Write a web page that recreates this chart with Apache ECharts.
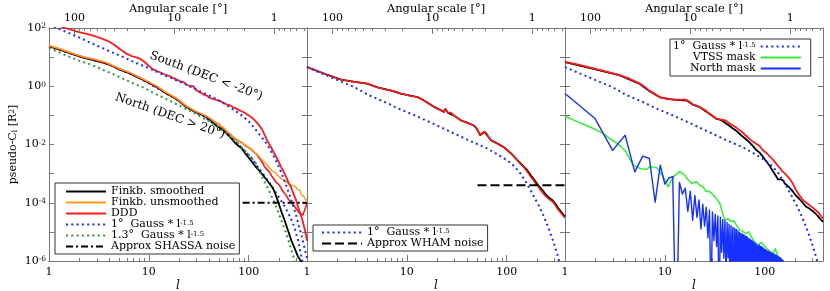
<!DOCTYPE html>
<html><head><meta charset="utf-8">
<script src="https://cdn.jsdelivr.net/npm/echarts@6/dist/echarts.min.js"></script>
<style>html,body{margin:0;padding:0;background:#fff}#c{width:830px;height:291px}</style>
</head><body><div id="c"></div>
<script>
// ---------- values: [l, log10(pseudo-C_l)] ----------
const p1SouthDDD = [[1,2.2],[1.45,2.0],[2,1.86],[2.5,1.78],[3,1.7],[3.5,1.62],[4.07,1.52],[4.6,1.4],[5.2,1.26],[5.98,1.12],[6.8,1.03],[7.5,0.99],[8.1,0.95],[9,0.84],[10,0.7],[11,0.58],[12,0.52],[13,0.48],[14,0.42],[15,0.38],[16,0.36],[17,0.3],[18,0.27],[19,0.22],[20,0.2],[21,0.14],[22,0.16],[23,0.1],[24,0.05],[25,0.08],[26,0.0],[27,-0.05],[28,0.0],[29,-0.1],[30,-0.14],[32,-0.2],[34,-0.24],[36,-0.3],[38,-0.32],[40.7,-0.4],[44,-0.43],[47.3,-0.47],[51,-0.5],[55,-0.56],[60,-0.62],[65,-0.66],[70,-0.72],[75,-0.76],[80,-0.82],[85,-0.86],[90,-0.9],[95,-0.95],[100,-1.0],[107,-1.07],[115,-1.17],[125,-1.3],[136,-1.48],[145,-1.68],[150,-1.8],[160,-1.98],[170,-2.13],[180,-2.3],[189,-2.43],[200,-2.6],[210,-2.75],[225,-2.95],[238,-3.12],[250,-3.3],[265,-3.45],[280,-3.68],[299,-3.92],[315,-4.18],[330,-4.38],[349,-4.65],[365,-4.92],[377,-5.15],[384,-5.3]];
const p1SouthGauss = [[1,2.12],[1.29,1.95],[2,1.68],[2.57,1.5],[3.5,1.3],[4.5,1.13],[5.5,1.01],[7,0.84],[8.5,0.72],[10.2,0.61],[13,0.44],[17.4,0.26],[22,0.1],[27.7,-0.05],[35,-0.22],[45,-0.4],[55,-0.56],[69,-0.78],[85,-1.0],[100,-1.2],[115,-1.45],[130,-1.68],[150,-1.95],[175,-2.35],[200,-2.75],[217,-3.05],[240,-3.45],[260,-3.78],[278,-4.08],[300,-4.45],[316,-4.75],[340,-5.15],[360,-5.5],[375,-5.75],[384,-5.9]];
const p1NorthSmoothed = [[1,1.37],[1.3,1.25],[1.75,1.09],[2.2,0.98],[2.8,0.9],[3.77,0.78],[4.5,0.66],[5.2,0.56],[6.46,0.44],[7.5,0.33],[8.5,0.24],[10,0.12],[11,0.04],[11.9,-0.02],[13,-0.1],[14.5,-0.22],[16,-0.3],[17.4,-0.37],[19,-0.45],[20.5,-0.53],[22,-0.62],[23.8,-0.71],[26,-0.78],[28,-0.85],[30,-0.9],[33,-0.96],[36,-1.02],[38,-1.07],[41,-1.15],[44,-1.25],[47,-1.34],[51,-1.42],[55,-1.5],[60,-1.62],[64,-1.72],[68,-1.82],[72,-1.92],[76,-2.0],[80,-2.06],[85,-2.13],[90,-2.25],[95,-2.36],[100,-2.45],[108,-2.6],[116,-2.74],[125,-2.86],[139,-3.05],[150,-3.2],[162,-3.34],[175,-3.5],[185,-3.7],[195,-3.92],[204,-4.12],[215,-4.35],[229,-4.6],[245,-4.9],[268,-5.3],[290,-5.58],[312,-5.85],[340,-6.05],[384,-6.5]];
const p1NorthUnsmoothed = [[1,1.4],[1.3,1.28],[1.75,1.12],[2.2,1.01],[2.8,0.93],[3.77,0.81],[4.5,0.69],[5.2,0.59],[6.46,0.47],[7.5,0.36],[8.5,0.27],[10,0.15],[11,0.07],[11.9,0.01],[13,-0.07],[14.5,-0.19],[16,-0.27],[17.4,-0.34],[19,-0.42],[20.5,-0.5],[22,-0.59],[23.8,-0.68],[26,-0.75],[28,-0.82],[30,-0.87],[33,-0.93],[36,-0.99],[38,-1.03],[41,-1.1],[44,-1.18],[47,-1.25],[50,-1.28],[53,-1.38],[57,-1.45],[62,-1.58],[66,-1.65],[70,-1.75],[75,-1.82],[80,-1.88],[85,-1.92],[90,-2.0],[95,-2.05],[100,-2.1],[105,-2.14],[110,-2.22],[115,-2.26],[119,-2.31],[125,-2.38],[130,-2.45],[136,-2.5],[142,-2.6],[150,-2.67],[157,-2.75],[165,-2.83],[172,-2.9],[180,-2.96],[190,-3.0],[198,-3.08],[205,-3.1],[212,-3.17],[220,-3.15],[230,-3.24],[240,-3.26],[254,-3.36],[262,-3.34],[275,-3.42],[285,-3.46],[295,-3.44],[305,-3.54],[315,-3.58],[325,-3.56],[335,-3.7],[345,-3.66],[355,-3.78],[365,-3.76],[375,-3.92],[384,-3.88]];
const p1NorthDDD = [[1,1.39],[1.3,1.27],[1.75,1.11],[2.2,1.0],[2.8,0.92],[3.77,0.8],[4.5,0.68],[5.2,0.58],[6.46,0.46],[7.5,0.35],[8.5,0.26],[10,0.14],[11,0.06],[11.9,0.0],[13,-0.08],[14.5,-0.2],[16,-0.28],[17.4,-0.35],[19,-0.43],[20.5,-0.51],[22,-0.6],[23.8,-0.69],[26,-0.76],[28,-0.83],[30,-0.88],[33,-0.94],[36,-1.0],[38,-1.04],[41,-1.11],[44,-1.19],[47,-1.26],[50,-1.29],[53,-1.39],[57,-1.46],[62,-1.59],[66,-1.66],[70,-1.76],[75,-1.83],[80,-1.89],[85,-1.93],[90,-2.01],[95,-2.06],[100,-2.11],[105,-2.15],[110,-2.23],[115,-2.27],[119,-2.32],[125,-2.42],[130,-2.5],[136,-2.6],[142,-2.72],[150,-2.83],[162,-2.95],[170,-3.08],[180,-3.2],[188,-3.29],[204,-3.4],[215,-3.55],[225,-3.65],[238,-3.75],[250,-3.88],[262,-3.96],[275,-4.04],[288,-4.12],[299,-4.18],[310,-4.28],[324,-4.36],[336,-4.42],[349,-4.42],[358,-4.32],[365,-4.24],[371,-4.18],[384,-4.02]];
const p1NorthGauss1 = [[1,1.37],[2,1.03],[4,0.75],[8,0.29],[15,-0.25],[20,-0.5],[25,-0.75],[30,-0.92],[35,-1.02],[45,-1.3],[55,-1.52],[70,-1.82],[90,-2.2],[110,-2.5],[118,-2.68],[135,-2.95],[150,-3.15],[175,-3.5],[204,-3.85],[225,-4.08],[245,-4.3],[265,-4.55],[288,-4.85],[312,-5.28],[337,-5.85],[360,-6.3],[384,-6.8]];
const p1NorthGauss13 = [[1,1.32],[1.5,1.05],[2,0.88],[2.57,0.76],[3.5,0.56],[4.5,0.4],[5.5,0.26],[7,0.1],[9,-0.06],[11.9,-0.28],[15,-0.44],[18,-0.58],[22,-0.73],[27,-0.88],[32.4,-1.03],[40,-1.2],[50,-1.42],[60,-1.62],[70,-1.82],[80,-2.0],[90,-2.18],[100,-2.35],[118.6,-2.66],[130,-2.95],[140,-3.2],[150,-3.4],[162,-3.62],[175,-3.88],[185,-4.05],[204,-4.45],[220,-4.75],[238,-5.05],[250,-5.28],[268,-5.62],[288,-6.0],[310,-6.4]];
const p1ShassaNoise = [[87,-4.0],[384,-4.0]];

const p2DDD = [[1,0.66],[1.2,0.55],[1.5,0.43],[1.8,0.33],[2.19,0.23],[2.6,0.18],[3,0.15],[3.5,0.12],[4,0.09],[4.5,0.03],[5.1,-0.04],[6,-0.1],[7,-0.15],[7.8,-0.19],[8.7,-0.25],[10,-0.3],[11,-0.34],[12,-0.35],[12.8,-0.37],[14,-0.44],[15,-0.5],[16.5,-0.58],[18.8,-0.71],[20,-0.76],[21,-0.8],[22,-0.83],[23,-0.86],[23.6,-0.88],[24.3,-0.78],[25,-0.8],[26,-0.92],[27.5,-0.9],[29.6,-1.0],[32,-1.08],[34.7,-1.17],[37,-1.2],[40,-1.25],[43,-1.3],[46.6,-1.34],[50,-1.45],[52,-1.55],[54.3,-1.68],[57,-1.6],[60,-1.56],[63,-1.62],[66,-1.75],[70,-1.86],[75,-1.9],[80,-1.96],[86,-2.03],[93.5,-2.09],[100,-2.16],[110,-2.3],[118,-2.4],[128,-2.54],[140,-2.7],[150,-2.8],[162,-2.95],[174,-3.11],[185,-3.22],[195,-3.35],[207,-3.45],[219,-3.57],[235,-3.7],[250,-3.8],[270,-3.9],[285,-3.95],[298,-4.02],[315,-4.15],[330,-4.25],[350,-4.35],[374,-4.48],[384,-4.52]];
const p2Smoothed = [[1,0.66],[1.5,0.43],[2.19,0.23],[3,0.15],[4,0.09],[5.1,-0.04],[7,-0.15],[8.7,-0.25],[10,-0.3],[12.8,-0.37],[15,-0.5],[18.8,-0.71],[23.6,-0.88],[24.3,-0.78],[26,-0.92],[29.6,-1.0],[34.7,-1.17],[40,-1.25],[46.6,-1.34],[50,-1.45],[54.3,-1.68],[60,-1.56],[66,-1.75],[70,-1.86],[80,-1.96],[93.5,-2.09],[110,-2.3],[128,-2.54],[150,-2.78],[162,-2.9],[174,-3.05],[185,-3.17],[195,-3.28],[207,-3.4],[219,-3.5],[235,-3.62],[250,-3.74],[270,-3.85],[285,-3.9],[298,-3.96],[315,-4.08],[330,-4.2],[350,-4.3],[374,-4.43],[384,-4.47]];
const gauss1deg = [[1,0.66],[1.5,0.4],[2.03,0.21],[3,-0.03],[4,-0.28],[6,-0.54],[8.7,-0.8],[12,-1.0],[18.8,-1.3],[28,-1.58],[40.7,-1.84],[52,-2.0],[64,-2.14],[80,-2.33],[101,-2.54],[120,-2.75],[138,-3.0],[160,-3.35],[187,-3.78],[210,-4.1],[236,-4.48],[265,-4.9],[298,-5.4],[320,-5.75],[334,-5.98],[360,-6.4],[384,-6.9]];
const p2WhamNoise = [[51,-3.4],[384,-3.4]];

const p3DDD = [[1,0.84],[1.4,0.73],[1.93,0.61],[2.6,0.5],[3.55,0.38],[4.5,0.25],[5.6,0.09],[6.3,-0.02],[7,-0.15],[8,-0.27],[8.9,-0.37],[10,-0.41],[11,-0.43],[12,-0.45],[13.1,-0.46],[14.5,-0.47],[15.5,-0.45],[16.6,-0.48],[18,-0.55],[19,-0.62],[20.5,-0.66],[22.4,-0.71],[24,-0.78],[25.5,-0.82],[27,-0.9],[29,-0.97],[31,-1.05],[32.8,-1.11],[35,-1.13],[37,-1.15],[39,-1.16],[41.3,-1.19],[44,-1.26],[48,-1.35],[52,-1.42],[56.2,-1.51],[60,-1.58],[65,-1.7],[70,-1.8],[76,-1.9],[83,-1.98],[89,-2.05],[95,-2.18],[105,-2.3],[113,-2.42],[121,-2.52],[130,-2.65],[140,-2.78],[150,-2.92],[160,-3.0],[170,-3.1],[178,-3.18],[192,-3.35],[205,-3.55],[220,-3.72],[239,-3.88],[250,-3.95],[261,-4.0],[280,-4.08],[300,-4.15],[315,-4.22],[330,-4.27],[350,-4.36],[370,-4.47],[384,-4.55]];
const p3Smoothed = [[1,0.83],[1.93,0.6],[3.55,0.37],[5.6,0.08],[7,-0.16],[8.9,-0.38],[11,-0.44],[13.1,-0.47],[16.6,-0.49],[19,-0.63],[22.4,-0.72],[27,-0.91],[32.8,-1.12],[35,-1.14],[37,-1.17],[41,-1.28],[44,-1.35],[48,-1.45],[52,-1.53],[56,-1.63],[60,-1.72],[65,-1.82],[70,-1.92],[76,-2.05],[83,-2.2],[89,-2.28],[95,-2.4],[105,-2.6],[113,-2.75],[121,-2.92],[130,-3.08],[136,-3.2],[141,-3.26],[146,-3.2],[150,-3.18],[155,-3.25],[160,-3.35],[170,-3.42],[178,-3.46],[185,-3.55],[192,-3.62],[205,-3.75],[224,-3.88],[240,-4.0],[261,-4.14],[280,-4.2],[302,-4.28],[320,-4.36],[340,-4.45],[355,-4.53],[370,-4.6],[384,-4.66]];
const p3VtssMask = [[1,-1.03],[1.4,-1.25],[1.93,-1.45],[2.4,-1.62],[2.82,-1.8],[3.5,-2.02],[4.1,-2.26],[4.8,-2.7],[5.6,-2.82],[6.56,-2.86],[7.1,-2.76],[8.3,-2.8],[8.9,-2.93],[9.6,-3.1],[10.8,-3.45],[12.2,-3.1],[14.1,-2.93],[15.8,-3.05],[17,-3.2],[18.5,-3.33],[20.7,-3.28],[22.4,-3.4],[24.1,-3.45],[26,-3.62],[27.5,-3.6],[29.2,-3.67],[32,-3.8],[35.5,-4.02],[37.5,-4.3],[39.8,-4.59],[43,-4.55],[46.5,-4.65],[49,-4.62],[52,-4.76],[54,-4.72],[56,-4.94],[60,-4.98],[65,-5.05],[69,-5.0],[73,-5.15],[79,-5.34],[85,-5.45],[89,-5.4],[93,-5.36],[97,-5.44],[101,-5.5],[104,-5.56],[108,-5.6],[112,-5.66],[116,-5.7],[121,-5.74],[125,-5.66],[128,-5.58],[131,-5.6],[135,-5.8],[138,-5.95],[141,-6.1],[150,-6.6]];
// North mask: l = 1..15, then even l = 16..160 (peaks) and odd l = 17..161 (troughs)
const p3NorthMaskLow = [-0.25,-1.11,-2.2,-1.68,-2.94,-2.4,-2.48,-3.98,-2.71,-3.36,-3.15,-3.1,-9,-3.3,-3.7];
const p3NorthMaskPeaks = [-3.5,-3.6,-3.75,-3.9,-4.05,-4.15,-4.25,-4.32,-4.4,-4.45,-4.5,-4.58,-4.62,-4.68,-4.74,-4.79,-4.84,-4.87,-4.92,-4.96,-5.02,-5.05,-5.08,-5.1,-5.14,-5.16,-5.2,-5.24,-5.26,-5.3,-5.32,-5.36,-5.38,-5.42,-5.46,-5.48,-5.45,-5.49,-5.5,-5.52,-5.54,-5.58,-5.6,-5.61,-5.64,-5.66,-5.66,-5.68,-5.7,-5.7,-5.72,-5.74,-5.74,-5.75,-5.77,-5.79,-5.79,-5.8,-5.82,-5.83,-5.85,-5.86,-5.87,-5.89,-5.9,-5.92,-5.94,-5.96,-5.98,-6.0,-6.02,-6.04,-6.06];
const p3NorthMaskTroughs = [-4.3,-4.6,-4.5,-4.9,-4.8,-5.2,-7.5,-5.3,-5.5,-8,-5.7,-5.9,-6.5,-5.9,-7,-6.2,-8,-6.3,-6.8,-6.4,-7.5,-6.5,-7,-6.6,-8.5,-6.7,-7.2,-6.8,-9,-6.9,-7.5,-7,-8,-7.1,-7.6,-7.2,-9,-7.3,-7.8,-7.4,-8.2,-7.5,-8.8,-7.6,-8,-7.8,-9,-7.9,-8.4,-8,-9.5,-8.1,-8.6,-8.2,-9,-8.3,-8.8,-8.4,-9.2,-8.5,-8.9,-8.6,-9.4,-8.7,-9,-8.8,-9.5,-8.9,-9.1,-9,-9.6,-9.1,-9.3];

// tick marks (labels)
const lMinorTicks = [2,3,4,5,6,7,8,9,20,30,40,50,60,70,80,90,200,300];
const degMinorTicks = [90,80,70,60,50,40,30,20,9,8,7,6,5,4,3,2,0.9,0.8,0.7,0.6,0.5];

// ---------- chart ----------
const FONT = 'DejaVu Serif';
const AXC = '#777';
const L_MAX = 384;
const Y_MIN = 1e-6, Y_MAX = 1e2;
const GRID_LEFT = [49, 307, 565];
const toC = arr => arr.map(p => [p[0], Math.pow(10, p[1])]);

const northMask = [];
p3NorthMaskLow.forEach((v, i) => northMask.push([i + 1, v]));
for (let k = 0; k < p3NorthMaskPeaks.length; k++) {
  northMask.push([16 + 2 * k, p3NorthMaskPeaks[k]]);
  northMask.push([17 + 2 * k, p3NorthMaskTroughs[k]]);
}

const GAUSS1 = '1° Gauss * l^-1.5', GAUSS13 = '1.3° Gauss * l^-1.5';

function line(name, data, g, color, width, dash) {
  return {
    type: 'line', name, xAxisIndex: 2 * g, yAxisIndex: 2 * g, data: toC(data),
    symbol: 'none', showSymbol: false, silent: true, animation: false, clip: true,
    lineStyle: { color, width, type: dash || 'solid', cap: 'butt', join: 'round' },
    itemStyle: { color }
  };
}
const DOT = [2, 3.3];
const BLUE = '#1f2cff', RED = '#ff1a1a', ORANGE = '#ff9a1a', DKGREEN = '#2f9a2f', GREEN = '#33ee33', NBLUE = '#1530ff';

const powLabel = v => {
  const e = Math.log10(v);
  return Math.abs(e - Math.round(e)) < 1e-6 ? String(Math.round(v)) : '';
};
const yLabel = v => {
  const e = Math.round(Math.log10(v));
  if (Math.abs(Math.log10(v) - e) > 1e-6 || e % 2 !== 0) return '';
  return '{b|10}{s|' + e + '}';
};

const grids = [], xAxes = [], yAxes = [];
for (let g = 0; g < 3; g++) {
  grids.push({ left: GRID_LEFT[g], top: 28, width: 258, height: 233, outerBoundsMode: 'none', containLabel: false });
  xAxes.push({
    type: 'log', gridIndex: g, min: 1, max: L_MAX, position: 'bottom',
    axisLine: { show: true, onZero: false, lineStyle: { color: AXC, width: 1 } },
    axisTick: { show: true, inside: true, length: 6, lineStyle: { color: AXC } },
    minorTick: { show: false }, splitLine: { show: false },
    axisLabel: { formatter: powLabel, margin: 6, color: '#000', fontFamily: FONT, fontSize: 11 },
    name: 'l', nameLocation: 'middle', nameGap: 19, nameMoveOverlap: false,
    nameTextStyle: { fontFamily: FONT, fontStyle: 'italic', fontSize: 12, color: '#000' }
  });
  xAxes.push({
    type: 'log', gridIndex: g, min: 180 / L_MAX, max: 180, inverse: true, position: 'top',
    axisLine: { show: true, onZero: false, lineStyle: { color: AXC, width: 1 } },
    axisTick: { show: true, inside: true, length: 6, lineStyle: { color: AXC } },
    minorTick: { show: false }, splitLine: { show: false },
    axisLabel: { formatter: powLabel, margin: 4, color: '#000', fontFamily: FONT, fontSize: 11 },
    name: 'Angular scale [°]', nameLocation: 'middle', nameGap: 13, nameMoveOverlap: false,
    nameTextStyle: { fontFamily: FONT, fontSize: 11.5, color: '#000' }
  });
  yAxes.push({
    type: 'log', gridIndex: g, min: Y_MIN, max: Y_MAX, position: 'left',
    axisLine: { show: true, onZero: false, lineStyle: { color: AXC, width: 1 } },
    axisTick: { show: true, inside: true, length: 5, lineStyle: { color: AXC } },
    minorTick: { show: false }, splitLine: { show: false },
    axisLabel: {
      show: g === 0, formatter: yLabel, margin: 3, color: '#000',
      rich: { b: { fontFamily: FONT, fontSize: 11, color: '#000' }, s: { fontFamily: FONT, fontSize: 7.5, color: '#000', verticalAlign: 'top' } }
    },
    name: g === 0 ? '{a|pseudo-C}{s|l}{a| [R}{p|2}{a|]}' : '', nameLocation: 'middle', nameGap: 30, nameRotate: 90, nameMoveOverlap: false,
    nameTextStyle: {
      color: '#000',
      rich: {
        a: { fontFamily: FONT, fontSize: 11, color: '#000' },
        s: { fontFamily: FONT, fontSize: 7.5, color: '#000', verticalAlign: 'bottom' },
        p: { fontFamily: FONT, fontSize: 7.5, color: '#000', verticalAlign: 'top' }
      }
    }
  });
  yAxes.push({
    type: 'log', gridIndex: g, min: Y_MIN, max: Y_MAX, position: 'right',
    axisLine: { show: true, onZero: false, lineStyle: { color: AXC, width: 1 } },
    axisTick: { show: true, inside: true, length: 5, lineStyle: { color: AXC } },
    minorTick: { show: false }, splitLine: { show: false }, axisLabel: { show: false }
  });
}

function minorTickSeries(g, top) {
  return {
    type: 'custom', xAxisIndex: 2 * g + (top ? 1 : 0), yAxisIndex: 2 * g, silent: true, animation: false,
    data: (top ? degMinorTicks : lMinorTicks).map(v => [v, top ? Y_MAX : Y_MIN]),
    renderItem: (params, api) => {
      const p = api.coord([api.value(0), api.value(1)]);
      const x = Math.round(p[0]) + 0.5;
      const y2 = top ? p[1] + 3 : p[1] - 3;
      return { type: 'line', shape: { x1: x, y1: p[1], x2: x, y2 }, style: { stroke: AXC, lineWidth: 1 } };
    }
  };
}

const series = [
  // panel 1
  line('1° Gauss * l^-1.5', p1NorthGauss1, 0, BLUE, 2, DOT),
  line('Finkb. smoothed', p1NorthSmoothed, 0, '#000', 1.8),
  line('DDD', p1NorthDDD, 0, RED, 1.6),
  line('Finkb. unsmoothed', p1NorthUnsmoothed, 0, ORANGE, 1.4),
  line('1.3° Gauss * l^-1.5', p1NorthGauss13, 0, DKGREEN, 2, DOT),
  line('DDD', p1SouthDDD, 0, RED, 1.8),
  line('1° Gauss * l^-1.5', p1SouthGauss, 0, BLUE, 2, DOT),
  line('Approx SHASSA noise', p1ShassaNoise, 0, '#000', 2, [7, 3, 2, 3]),
  // panel 2
  line('Finkb. smoothed', p2Smoothed, 1, '#000', 1.8),
  line('DDD', p2DDD, 1, RED, 1.6),
  line('1° Gauss * l^-1.5', gauss1deg, 1, BLUE, 2, DOT),
  line('Approx WHAM noise', p2WhamNoise, 1, '#000', 2, [9, 4]),
  // panel 3
  line('Finkb. smoothed', p3Smoothed, 2, '#000', 1.8),
  line('DDD', p3DDD, 2, RED, 1.8),
  line('1° Gauss * l^-1.5', gauss1deg, 2, BLUE, 2, DOT),
  line('VTSS mask', p3VtssMask, 2, GREEN, 1.5),
  line('North mask', northMask, 2, NBLUE, 1.4)
];
for (let g = 0; g < 3; g++) { series.push(minorTickSeries(g, false)); series.push(minorTickSeries(g, true)); }

const legendFmt = name => {
  if (name.indexOf('^') >= 0) {
    const parts = name.split('^');
    return '{t|' + parts[0].replace('° Gauss', '°  Gauss') + '}{s|' + parts[1] + '}';
  }
  return '{t|' + name + '}';
};
function legendCfg(data, left, top, align, padding) {
  return {
    show: true, orient: 'vertical', left, top, align, data, selectedMode: false,
    itemWidth: 40, itemHeight: 8, itemGap: 0, padding,
    itemStyle: { opacity: 0, borderWidth: 0 },
    borderColor: '#333', borderWidth: 1, borderRadius: 0, backgroundColor: '#fff',
    formatter: legendFmt,
    textStyle: {
      fontFamily: FONT, fontSize: 11, color: '#000', lineHeight: 10.5,
      rich: {
        t: { fontFamily: FONT, fontSize: 11, color: '#000', lineHeight: 10.5 },
        s: { fontFamily: FONT, fontSize: 7, color: '#000', verticalAlign: 'top', lineHeight: 7 }
      }
    }
  };
}

const option = {
  animation: false,
  backgroundColor: '#fff',
  textStyle: { fontFamily: FONT },
  grid: grids, xAxis: xAxes, yAxis: yAxes, series,
  legend: [
    legendCfg(['Finkb. smoothed', 'Finkb. unsmoothed', 'DDD', GAUSS1, GAUSS13, 'Approx SHASSA noise'], 55, 183, 'left', [3, 4, 2, 10]),
    legendCfg([GAUSS1, 'Approx WHAM noise'], 313, 225, 'left', [2, 4, 2, 8]),
    legendCfg([GAUSS1, 'VTSS mask', 'North mask'], 670, 39, 'right', [2, 9, 2, 3])
  ],
  graphic: [
    { type: 'text', z: 100, x: 206, y: 76, rotation: -0.36,
      style: { text: 'South (DEC < -20°)', font: '12px "DejaVu Serif"', fill: '#000', align: 'center', verticalAlign: 'middle' } },
    { type: 'text', z: 100, x: 170, y: 116, rotation: -0.34,
      style: { text: 'North (DEC > 20°)', font: '12px "DejaVu Serif"', fill: '#000', align: 'center', verticalAlign: 'middle' } }
  ]
};

const chart = echarts.init(document.getElementById('c'), null, { renderer: 'canvas' });
chart.setOption(option);
</script>
</body></html>
